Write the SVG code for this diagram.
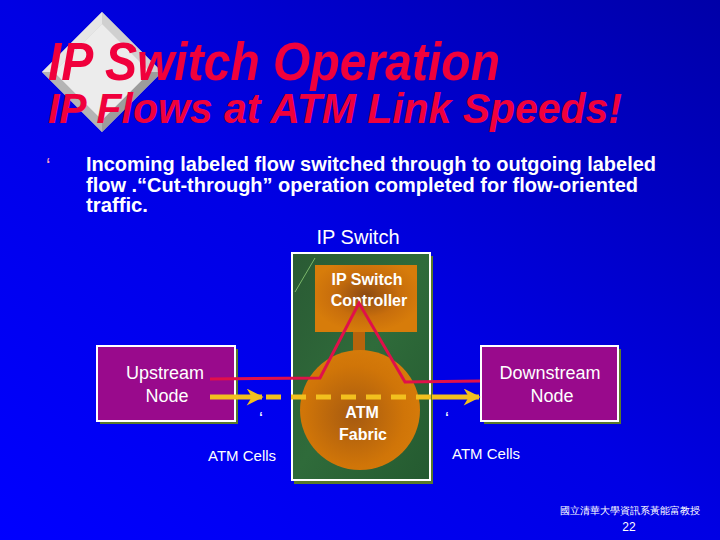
<svg xmlns="http://www.w3.org/2000/svg" width="720" height="540" viewBox="0 0 720 540">
<defs>
<linearGradient id="bg" x1="1" y1="0" x2="0" y2="1">
<stop offset="0" stop-color="#0000a8"/>
<stop offset="0.5" stop-color="#0000e4"/>
<stop offset="1" stop-color="#0000ff"/>
</linearGradient>
<radialGradient id="orangeR" cx="0.5" cy="0.45" r="0.55">
<stop offset="0" stop-color="#8c4a12"/>
<stop offset="0.6" stop-color="#c86e0c"/>
<stop offset="1" stop-color="#d77c0a"/>
</radialGradient>
<radialGradient id="orangeC" cx="0.45" cy="0.55" r="0.6">
<stop offset="0" stop-color="#a65a10"/>
<stop offset="0.7" stop-color="#d07508"/>
<stop offset="1" stop-color="#d77c0a"/>
</radialGradient>
<linearGradient id="green" x1="0" y1="0" x2="1" y2="1">
<stop offset="0" stop-color="#2a5a34"/>
<stop offset="0.5" stop-color="#2f6b3a"/>
<stop offset="1" stop-color="#245a30"/>
</linearGradient>
<marker id="ya" viewBox="0 0 10 10" refX="9" refY="5" markerWidth="4" markerHeight="3.4" orient="auto" markerUnits="strokeWidth">
<path d="M0,0 L10,5 L0,10 L3,5 Z" fill="#f2c01e"/>
</marker>
<style>
.title{font-family:"Liberation Sans",Arial,sans-serif;font-weight:bold;font-style:italic;fill:#f0003c}
.body{font-family:"Liberation Sans",Arial,sans-serif;font-weight:bold;fill:#ffffff;font-size:20px}
.lbl{font-family:"Liberation Sans",Arial,sans-serif;fill:#ffffff}
.blbl{font-family:"Liberation Sans",Arial,sans-serif;font-weight:bold;fill:#ffffff;font-size:16px}
.node{fill:#990a8c;stroke:#ffffff;stroke-width:2}
.shadow{fill:#5a7a2a}
.red{fill:none;stroke:#e0104a;stroke-width:3;stroke-linejoin:miter}
.yel{fill:none;stroke:#f2c01e;stroke-width:5}
.bul{font-family:"Liberation Sans",Arial,sans-serif;fill:#ff9fc0}
</style>
</defs>
<rect width="720" height="540" fill="url(#bg)"/>

<g id="diamond">
<polygon points="102,12 162,72 102,132 42,72" fill="#c8c8c8"/>
<polygon points="102,12 42,72 54,72 102,24" fill="#e6e6e6"/>
<polygon points="102,12 162,72 150,72 102,24" fill="#d0d0d0"/>
<polygon points="42,72 102,132 102,120 54,72" fill="#b4b4b4"/>
<polygon points="162,72 102,132 102,120 150,72" fill="#9c9c9c"/>
<polygon points="102,24 150,72 102,120 54,72" fill="#ececec"/>
</g>

<g id="titles">
<text class="title" x="48" y="80" font-size="53" textLength="452" lengthAdjust="spacingAndGlyphs">IP Switch Operation</text>
<text class="title" x="48" y="123" font-size="43" textLength="574" lengthAdjust="spacingAndGlyphs">IP Flows at ATM Link  Speeds!</text>
</g>

<g id="bullet">
<text class="bul" x="46" y="172" font-size="20">‘</text>
<text class="body" x="86" y="171" textLength="570" lengthAdjust="spacingAndGlyphs">Incoming labeled flow switched through to outgoing labeled</text>
<text class="body" x="86" y="192" textLength="552" lengthAdjust="spacingAndGlyphs">flow .“Cut-through” operation completed for flow-oriented</text>
<text class="body" x="86" y="212" textLength="62" lengthAdjust="spacingAndGlyphs">traffic.</text>
</g>

<g id="ipswitch">
<text class="lbl" x="358" y="244" font-size="20" text-anchor="middle">IP Switch</text>
<rect x="294" y="256" width="139" height="228" class="shadow"/>
<rect x="292" y="253" width="138" height="227" fill="url(#green)" stroke="#ffffff" stroke-width="2"/>
<line x1="295" y1="292" x2="315" y2="258" stroke="#7ab86a" stroke-width="1"/>
</g>

<g id="controller">
<rect x="353" y="330" width="12" height="24" fill="#b8640c"/>
<rect x="315" y="265" width="102" height="67" fill="url(#orangeR)"/>
<text class="blbl" x="367" y="285" text-anchor="middle">IP Switch</text>
<text class="blbl" x="369" y="306" text-anchor="middle">Controller</text>
</g>

<g id="fabric">
<ellipse cx="360" cy="410" rx="60" ry="60" fill="url(#orangeC)"/>
</g>

<g id="upstream">
<rect x="100" y="349" width="138" height="75" class="shadow"/>
<rect x="97" y="346" width="138" height="75" class="node"/>
<text class="lbl" x="165" y="379" font-size="18" text-anchor="middle">Upstream</text>
<text class="lbl" x="167" y="402" font-size="18" text-anchor="middle">Node</text>
</g>

<g id="downstream">
<rect x="484" y="349" width="137" height="75" class="shadow"/>
<rect x="481" y="346" width="137" height="75" class="node"/>
<text class="lbl" x="550" y="379" font-size="18" text-anchor="middle">Downstream</text>
<text class="lbl" x="552" y="402" font-size="18" text-anchor="middle">Node</text>
</g>

<g id="connectors">
<polyline class="red" points="210,379 320,378 359,303 405,382 480,381"/>
<line class="yel" x1="210" y1="397" x2="262" y2="397" marker-end="url(#ya)"/>
<line class="yel" x1="266" y1="397" x2="432" y2="397" stroke-dasharray="15,10"/>
<line class="yel" x1="432" y1="397" x2="479" y2="397" marker-end="url(#ya)"/>
</g>

<g id="labels">
<text class="blbl" x="362" y="418" text-anchor="middle">ATM</text>
<text class="blbl" x="363" y="440" text-anchor="middle">Fabric</text>
<text class="lbl" x="259" y="425" font-size="18">‘</text>
<text class="lbl" x="445" y="425" font-size="18">‘</text>
<text class="lbl" x="208" y="461" font-size="15">ATM Cells</text>
<text class="lbl" x="452" y="459" font-size="15">ATM Cells</text>
<text class="lbl" x="630" y="514" font-size="10" text-anchor="middle" font-family="'Noto Sans CJK TC','Noto Sans CJK SC',sans-serif">國立清華大學資訊系黃能富教授</text>
<text class="lbl" x="629" y="531" font-size="12" text-anchor="middle">22</text>
</g>
</svg>
